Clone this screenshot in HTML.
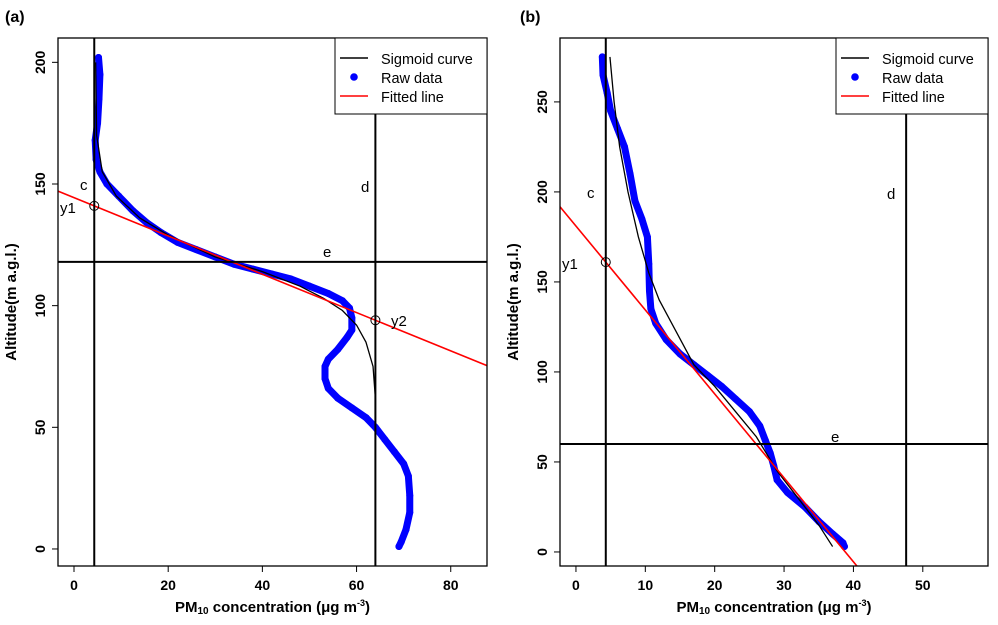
<!DOCTYPE html>
<html><head><meta charset="utf-8"><style>
html,body{margin:0;background:#fff;width:998px;height:625px;overflow:hidden}
svg{display:block;font-family:"Liberation Sans",Arial,sans-serif;overflow:hidden}
</style></head><body>
<svg id="s" width="998" height="625" viewBox="0 0 998 625"></svg>
<script>
// Panel (a) data
const aRawX=[5.2,5.5,5.3,5,4.5,4.7,5.5,7,9.5,12.5,15.5,18.5,22,26,30,34,38,42,46,50,54,57,58.5,59,59,58,56,54,53.3,53.3,54,56,59,62,64,66,68,70,71,71.3,71.3,70.5,69.5,69];
const aRawY=[202,195,185,175,168,160,155,150,145,139,134,130,126,123,120,117,115,113,111,108,105,102,99,95,90,87,82,78,75,70,66,62,58,54,50,45,40,35,30,22,15,8,3,1];
const aSigX=[4.6,4.8,6,9,14,20,30,40,48,53,57,60,62,63.5,64,64];
const aSigY=[200,170,155,145,136,129,120,114,108,103,98,92,85,75,62,45];
const aC=4.3, aD=64, aE=118, aY1=141, aY2=94;
const aXTicks=[0,20,40,60,80], aYTicks=[0,50,100,150,200];
// Panel (b) data
const bRawX=[3.8,3.9,4.5,5,6,7,7.8,8.5,9.5,10.3,10.5,10.6,10.8,11.5,13,15,17,19,21,23,25,26.5,27.3,28,28.5,29,30.5,33,35,37,38.5,38.7];
const bRawY=[275,265,255,245,235,225,210,195,185,175,160,145,135,127,118,110,104,98,92,85,78,70,62,55,48,40,33,25,17,10,5,3];
const bSigX=[4.9,5.5,6.3,7.5,9,10.5,12,14.5,17,20,23,26,29,32,35,37];
const bSigY=[275,250,225,200,175,155,140,122,104,92,78,64,45,30,15,3];
const bC=4.3, bD=47.6, bE=60, bY1=161, bFitX0=40.5, bFitY0=-7.8;
const bXTicks=[0,10,20,30,40,50], bYTicks=[0,50,100,150,200,250];

const NS="http://www.w3.org/2000/svg", svg=document.getElementById('s');
function el(t,a,p){const e=document.createElementNS(NS,t);for(const k in a)e.setAttribute(k,a[k]);(p||svg).appendChild(e);return e;}
function txt(s,a,p){const e=el('text',a,p);e.textContent=s;return e;}

function panel(o){
  const g=el('g',{});
  
  
  const X=v=>o.L+(v-o.x0)/(o.x1-o.x0)*(o.R-o.L);
  const Y=v=>o.B-(v-o.y0)/(o.y1-o.y0)*(o.B-o.T);
  const cp=el('clipPath',{id:'c'+o.name},g);el('rect',{x:o.L,y:o.T,width:o.R-o.L,height:o.B-o.T},cp);
  const pl=el('g',{'clip-path':'url(#c'+o.name+')'},g);
  let d=o.rx.map((v,i)=>(i?'L':'M')+X(v)+' '+Y(o.ry[i])).join('');
  const raw=el('path',{d:d,fill:'none',stroke:'#0000ff','stroke-width':7,'stroke-linecap':'round','stroke-linejoin':'round'},pl);
  
  
  o.rx.forEach((v,i)=>{const c=el('circle',{cx:X(v),cy:Y(o.ry[i]),r:3.5,fill:'#0000ff'},pl);
    
    });
  d=o.sx.map((v,i)=>(i?'L':'M')+X(v)+' '+Y(o.sy[i])).join('');
  const sg=el('path',{d:d,fill:'none',stroke:'#000','stroke-width':1.3},pl);
  
  
  const fy=x=>o.fy1+(x-o.c)*o.slope;
  const fl=el('line',{x1:X(o.x0),y1:Y(fy(o.x0)),x2:X(o.x1),y2:Y(fy(o.x1)),stroke:'#ff0000','stroke-width':1.6},pl);
  
  
  [[X(o.c),o.T,X(o.c),o.B,'c-line'],[X(o.d),o.T,X(o.d),o.B,'d-line'],[o.L,Y(o.e),o.R,Y(o.e),'e-line']].forEach(a=>{
    const l=el('line',{x1:a[0],y1:a[1],x2:a[2],y2:a[3],stroke:'#000','stroke-width':2},pl);
    
    });
  const c1=el('circle',{cx:X(o.c),cy:Y(o.fy1),r:4.5,fill:'none',stroke:'#000','stroke-width':1},g);
  
  
  if(o.hasY2){const c2=el('circle',{cx:X(o.d),cy:Y(fy(o.d)),r:4.5,fill:'none',stroke:'#000','stroke-width':1},g);
    
    }
  o.labels.forEach(lb=>{const t=txt(lb[0],{x:lb[1],y:lb[2],'font-size':15},g);
    
    });
  el('rect',{x:o.L,y:o.T,width:o.R-o.L,height:o.B-o.T,fill:'none',stroke:'#000','stroke-width':1.3},g);
  o.xt.forEach(v=>{el('line',{x1:X(v),y1:o.B,x2:X(v),y2:o.B+6,stroke:'#000'},g);
    const t=txt(v,{x:X(v),y:o.B+24,'font-size':14,'font-weight':'bold','text-anchor':'middle'},g);
    
    });
  o.yt.forEach(v=>{el('line',{x1:o.L-6,y1:Y(v),x2:o.L,y2:Y(v),stroke:'#000'},g);
    const t=txt(v,{x:o.L-13,y:Y(v),'font-size':14,'font-weight':'bold','text-anchor':'middle',transform:`rotate(-90 ${o.L-13} ${Y(v)})`},g);
    
    });
  const xt=el('text',{x:(o.L+o.R)/2,y:612,'font-size':15,'font-weight':'bold','text-anchor':'middle'},g);
  xt.innerHTML='PM<tspan font-size="10" dy="2">10</tspan><tspan dy="-2"> concentration (μg m</tspan><tspan font-size="9" dy="-6">-3</tspan><tspan dy="6">)</tspan>';
  
  
  const yx=o.L-42, yy=(o.T+o.B)/2;
  const yt=txt('Altitude(m a.g.l.)',{x:yx,y:yy,'font-size':15,'font-weight':'bold','text-anchor':'middle',transform:`rotate(-90 ${yx} ${yy})`},g);
  
  
  const lg=el('g',{},g);
  
  
  const lx=o.R-152;
  el('rect',{x:lx,y:o.T,width:152,height:76,fill:'#fff',stroke:'#000','stroke-width':1},lg);
  el('line',{x1:lx+5,y1:o.T+20,x2:lx+33,y2:o.T+20,stroke:'#000','stroke-width':1.5},lg);
  el('circle',{cx:lx+19,cy:o.T+39,r:3.8,fill:'#0000ff'},lg);
  el('line',{x1:lx+5,y1:o.T+58,x2:lx+33,y2:o.T+58,stroke:'#ff0000','stroke-width':1.5},lg);
  ['Sigmoid curve','Raw data','Fitted line'].forEach((s,i)=>{const t=txt(s,{x:lx+46,y:o.T+26+i*19,'font-size':14.5},lg);
    
    });
  const tt=txt(o.title,{x:o.tx,y:22,'font-size':16,'font-weight':'bold'},g);
  
  
}
panel({name:'panel-a',L:58,R:487,T:38,B:566,x0:-3.4,x1:87.7,y0:-7,y1:210,rx:aRawX,ry:aRawY,sx:aSigX,sy:aSigY,
  c:aC,d:aD,e:aE,fy1:aY1,slope:(aY2-aY1)/(aD-aC),hasY2:true,xt:aXTicks,yt:aYTicks,title:'(a)',tx:5,
  labels:[['c',80,190],['d',361,192],['e',323,257],['y1',60,213],['y2',391,326]]});
panel({name:'panel-b',L:560,R:988,T:38,B:566,x0:-2.3,x1:59.4,y0:-7.8,y1:285.5,rx:bRawX,ry:bRawY,sx:bSigX,sy:bSigY,
  c:bC,d:bD,e:bE,fy1:bY1,slope:(bFitY0-bY1)/(bFitX0-bC),hasY2:false,xt:bXTicks,yt:bYTicks,title:'(b)',tx:520,
  labels:[['c',587,198],['d',887,199],['e',831,442],['y1',562,269]]});
</script>
</body></html>
